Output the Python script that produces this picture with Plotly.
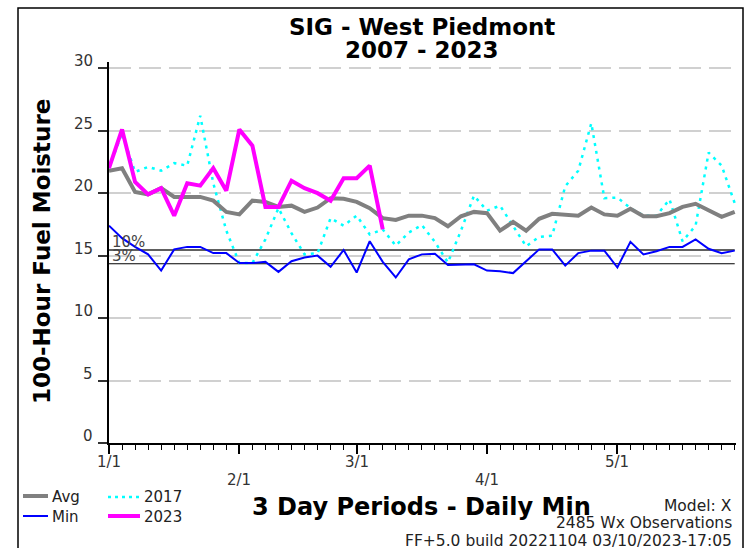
import plotly.graph_objects as go

# ---------------- data ----------------
periods = list(range(49))  # 3-day periods starting 1/1

avg = [21.8, 22.0, 20.1, 19.9, 20.4, 19.7, 19.7, 19.7, 19.4, 18.5, 18.3, 19.4, 19.3, 18.9, 19.0,
       18.5, 18.85, 19.6, 19.55, 19.3, 18.8, 18.0, 17.85, 18.2, 18.2, 18.0, 17.35, 18.15, 18.5,
       18.4, 17.0, 17.7, 17.0, 17.95, 18.35, 18.3, 18.2, 18.85, 18.3, 18.2, 18.75, 18.15, 18.15,
       18.4, 18.9, 19.15, 18.6, 18.1, 18.5]

minv = [17.4, 16.4, 15.7, 15.1, 13.8, 15.5, 15.7, 15.7, 15.2, 15.2, 14.4, 14.4, 14.5, 13.7, 14.55,
        14.85, 15.0, 14.1, 15.45, 13.65, 16.15, 14.5, 13.25, 14.7, 15.1, 15.15, 14.25, 14.25, 14.3,
        13.8, 13.75, 13.6, 14.55, 15.5, 15.5, 14.2, 15.2, 15.4, 15.4, 14.05, 16.1, 15.1, 15.35,
        15.7, 15.7, 16.3, 15.55, 15.2, 15.4]

y2017 = [22.0, 24.8, 21.7, 22.1, 21.8, 22.4, 22.2, 26.2, 20.8, 17.0, 14.4, 14.4, 16.3, 18.8, 16.8,
         15.1, 15.2, 18.0, 17.4, 18.2, 16.7, 17.1, 15.8, 16.85, 17.45, 16.1, 14.45, 17.0, 19.8,
         18.6, 19.0, 17.4, 15.75, 16.5, 16.6, 20.55, 21.8, 25.6, 19.6, 19.65, 18.8, 18.2, 18.2,
         19.5, 16.15, 17.4, 23.25, 22.2, 19.2]

y2023 = [22.0, 25.1, 20.9, 19.9, 20.4, 18.2, 20.8, 20.6, 22.0, 20.2, 25.1, 23.8, 18.9, 18.9, 21.0,
         20.4, 20.0, 19.4, 21.2, 21.2, 22.2, 17.1]

pct_labels = ["10%", "3%"]
pct_values = [15.45, 14.35]

month_labels = ["1/1", "2/1", "3/1", "4/1", "5/1"]
month_periods = [0, 10, 19, 29, 39]

y_ticks = [0, 5, 10, 15, 20, 25, 30]

title1 = "SIG - West Piedmont"
title2 = "2007 - 2023"
y_title = "100-Hour Fuel Moisture"
x_title = "3 Day Periods - Daily Min"
footer = ["Model: X", "2485 Wx Observations", "FF+5.0 build 20221104 03/10/2023-17:05"]

# ---------------- layout helpers (pixel -> paper) ----------------
W, H = 744, 548
L, R, T, B = 109, 736, 62, 443
FONT = "DejaVu Sans"


def pxx(px):
    return (px - L) / (R - L)


def pyy(py):
    return (B - py) / (B - T)


GRAY, BLUE, CYAN, MAGENTA = "#808080", "#0000FF", "#00FFFF", "#FF00FF"

fig = go.Figure()

# reference percentile lines
pct_styles = [dict(color="#606060", width=2), dict(color="#000000", width=1.2)]
for v, st in zip(pct_values, pct_styles):
    fig.add_trace(go.Scatter(x=[periods[0], periods[-1]], y=[v, v], mode="lines",
                             line=st, hoverinfo="skip", showlegend=False))

fig.add_trace(go.Scatter(x=periods, y=y2017, mode="lines", name="2017",
                         line=dict(color=CYAN, width=2.5, dash="3px,5px"), showlegend=False))
fig.add_trace(go.Scatter(x=periods, y=avg, mode="lines", name="Avg",
                         line=dict(color=GRAY, width=4), showlegend=False))
fig.add_trace(go.Scatter(x=periods, y=minv, mode="lines", name="Min",
                         line=dict(color=BLUE, width=2), showlegend=False))
fig.add_trace(go.Scatter(x=periods[:len(y2023)], y=y2023, mode="lines", name="2023",
                         line=dict(color=MAGENTA, width=4), showlegend=False))

annotations = []
shapes = []

# frame around the whole chart
shapes.append(dict(type="rect", xref="paper", yref="paper",
                   x0=pxx(18), x1=pxx(743), y0=pyy(570), y1=pyy(8),
                   line=dict(color="black", width=1.5), layer="below"))

# titles
annotations.append(dict(text="<b>" + title1 + "</b>", x=pxx(422), y=pyy(27), xref="paper", yref="paper",
                        showarrow=False, xanchor="center", yanchor="middle",
                        font=dict(family=FONT, size=23, color="black")))
annotations.append(dict(text="<b>" + title2 + "</b>", x=pxx(422), y=pyy(50), xref="paper", yref="paper",
                        showarrow=False, xanchor="center", yanchor="middle",
                        font=dict(family=FONT, size=23, color="black")))
annotations.append(dict(text="<b>" + y_title + "</b>", x=pxx(42), y=pyy(252), xref="paper", yref="paper",
                        showarrow=False, xanchor="center", yanchor="middle", textangle=-90,
                        font=dict(family=FONT, size=23, color="black")))
annotations.append(dict(text="<b>" + x_title + "</b>", x=pxx(421), y=pyy(507), xref="paper", yref="paper",
                        showarrow=False, xanchor="center", yanchor="middle",
                        font=dict(family=FONT, size=24, color="black")))

# y tick labels, drawn sitting on their tick (as in the reference)
for v in y_ticks:
    annotations.append(dict(text=str(v), x=pxx(95), y=v, xref="paper", yref="y", showarrow=False,
                            xanchor="right", yanchor="bottom", yshift=-4,
                            font=dict(family=FONT, size=15, color="#333333")))

# percentile labels
for lab, v in zip(pct_labels, pct_values):
    annotations.append(dict(text=lab, x=periods[0], y=v, xref="x", yref="y", showarrow=False,
                            xanchor="left", yanchor="bottom", xshift=1, yshift=-3,
                            font=dict(family=FONT, size=15, color="#444444")))

# staggered month labels
for k, (lab, p) in enumerate(zip(month_labels, month_periods)):
    row_y = 462 if k % 2 == 0 else 480
    annotations.append(dict(text=lab, x=p, y=pyy(row_y), xref="x", yref="paper", showarrow=False,
                            xanchor="center", yanchor="middle",
                            font=dict(family=FONT, size=15, color="#333333")))

# custom legend
legend_items = [
    ("Avg", GRAY, 4, "solid", 23, 48, 496, 50),
    ("Min", BLUE, 2, "solid", 23, 48, 516, 50),
    ("2017", CYAN, 2.5, "3px,4px", 108, 140, 497, 142),
    ("2023", MAGENTA, 4, "solid", 108, 140, 516, 142),
]
for name, col, wd, dash, x0, x1, yy, tx in legend_items:
    shapes.append(dict(type="line", xref="paper", yref="paper", x0=pxx(x0), x1=pxx(x1),
                       y0=pyy(yy), y1=pyy(yy), line=dict(color=col, width=wd, dash=dash)))
    annotations.append(dict(text=name, x=pxx(tx), y=pyy(yy + 0.5), xref="paper", yref="paper",
                            showarrow=False, xanchor="left", yanchor="middle",
                            font=dict(family=FONT, size=15, color="#222222")))

# footer texts
for txt, yy in zip(footer, [506, 523, 541]):
    annotations.append(dict(text=txt, x=pxx(734), y=pyy(yy), xref="paper", yref="paper",
                            showarrow=False, xanchor="right", yanchor="middle",
                            font=dict(family=FONT, size=15.5, color="#222222")))

fig.update_layout(
    width=W, height=H,
    margin=dict(l=L, r=W - R, t=T, b=H - B, pad=0),
    paper_bgcolor="white", plot_bgcolor="white",
    showlegend=False,
    annotations=annotations, shapes=shapes,
    font=dict(family=FONT, size=15, color="#333333"),
)

fig.update_xaxes(
    range=[0, 48.1], showgrid=False, zeroline=False,
    showline=True, linecolor="black", linewidth=2,
    tickmode="array", tickvals=month_periods, showticklabels=False,
    ticks="outside", ticklen=9, tickwidth=1.5, tickcolor="black",
    minor=dict(ticks="outside", dtick=1, tick0=0, ticklen=5, tickwidth=1.2, tickcolor="black"),
)

fig.update_yaxes(
    range=[0, 30.5], zeroline=False,
    showline=True, linecolor="black", linewidth=2,
    tickmode="array", tickvals=y_ticks, showticklabels=False,
    ticks="outside", ticklen=9, tickwidth=1.5, tickcolor="#333333",
    showgrid=True, gridcolor="#d0d0d0", gridwidth=1.5, griddash="22px,8px",
)

fig.write_html("out.html", config={"displayModeBar": False},
               post_script="document.body.style.margin='0';document.body.style.overflow='hidden';")
